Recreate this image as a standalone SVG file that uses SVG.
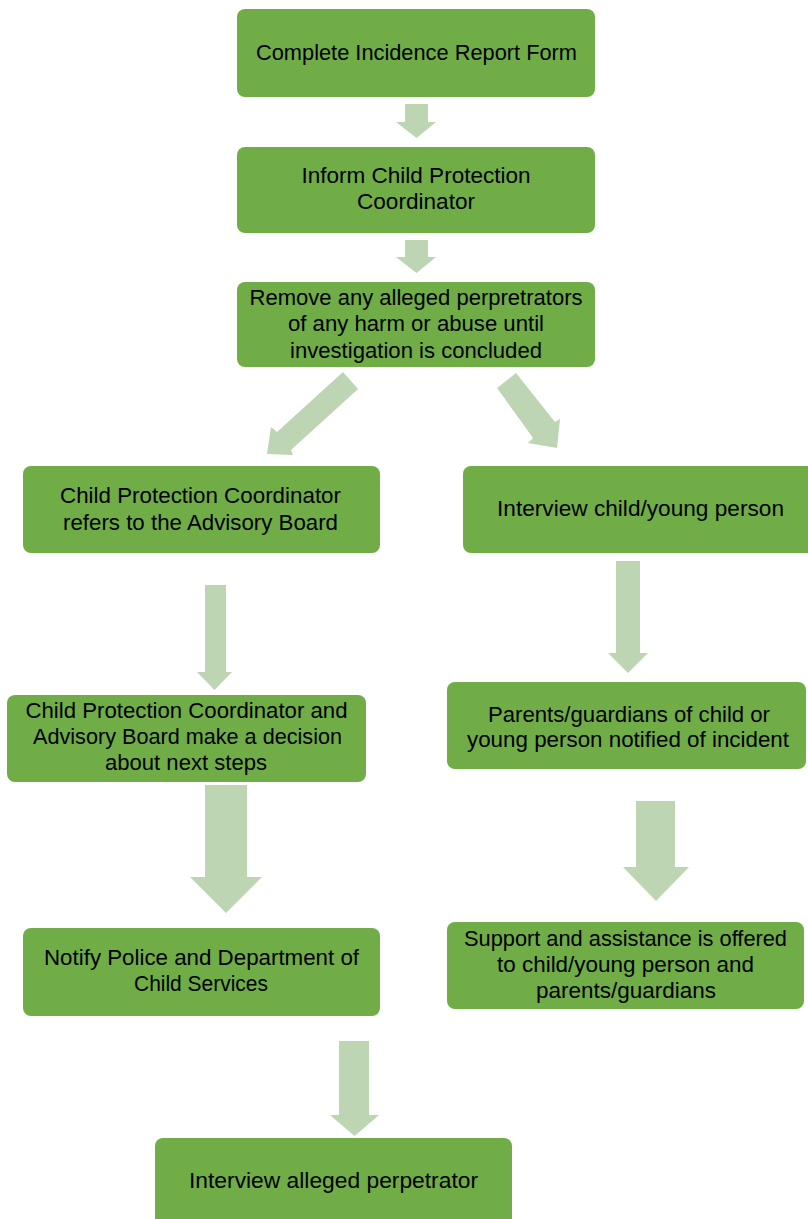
<svg xmlns="http://www.w3.org/2000/svg" width="808" height="1219" viewBox="0 0 808 1219">
<style>
.box{fill:#70AD47;}
.arr{fill:#BDD5B3;}
text{font-family:"Liberation Sans",Arial,sans-serif;font-size:21.5px;fill:#000;text-anchor:middle;}
</style>
<rect width="808" height="1219" fill="#ffffff"/>
<g id="connectors">
<polygon class="arr" points="405,104 428,104 428,122 436,122 416.5,138 396,122 405,122"/>
<polygon class="arr" points="405,240 428,240 428,257 436,257 416.5,273 396,257 405,257"/>
<polygon class="arr" points="343,372 358,389 291,450 293,455 267,454 271,427 277,432"/>
<polygon class="arr" points="516,373 555,422 560,419 557,448 528,443 533,438 497,388"/>
<polygon class="arr" points="205,585 226,585 226,672 232,672 214.5,690 197,672 205,672"/>
<polygon class="arr" points="616,561 640,561 640,653 648,653 628,673 608,653 616,653"/>
<polygon class="arr" points="205,785 247,785 247,877 262,877 226,913 190,877 205,877"/>
<polygon class="arr" points="636,801 675,801 675,867 689,867 656,901 623,867 636,867"/>
<polygon class="arr" points="339,1041 369,1041 369,1115 379,1115 354.5,1136 330,1115 339,1115"/>
</g>
<g id="n1">
<rect class="box" x="237" y="9" width="358" height="88" rx="8"/>
<text x="416.5" y="60" textLength="321" lengthAdjust="spacingAndGlyphs">Complete Incidence Report Form</text>
</g>
<g id="n2">
<rect class="box" x="237" y="147" width="358" height="86" rx="8"/>
<text x="416" y="183" textLength="229" lengthAdjust="spacingAndGlyphs">Inform Child Protection</text>
<text x="416" y="209" textLength="118" lengthAdjust="spacingAndGlyphs">Coordinator</text>
</g>
<g id="n3">
<rect class="box" x="237" y="282" width="358" height="85" rx="8"/>
<text x="416" y="305" textLength="333" lengthAdjust="spacingAndGlyphs">Remove any alleged perpretrators</text>
<text x="416" y="331" textLength="256" lengthAdjust="spacingAndGlyphs">of any harm or abuse until</text>
<text x="416" y="358" textLength="252" lengthAdjust="spacingAndGlyphs">investigation is concluded</text>
</g>
<g id="n4">
<rect class="box" x="23" y="466" width="357" height="87" rx="8"/>
<text x="200.5" y="503" textLength="281" lengthAdjust="spacingAndGlyphs">Child Protection Coordinator</text>
<text x="200.5" y="530" textLength="275" lengthAdjust="spacingAndGlyphs">refers to the Advisory Board</text>
</g>
<g id="n5">
<rect class="box" x="463" y="466" width="360" height="87" rx="8"/>
<text x="640.5" y="516" textLength="287" lengthAdjust="spacingAndGlyphs">Interview child/young person</text>
</g>
<g id="n6">
<rect class="box" x="7" y="695" width="359" height="87" rx="8"/>
<text x="186.5" y="718" textLength="322" lengthAdjust="spacingAndGlyphs">Child Protection Coordinator and</text>
<text x="187.5" y="744" textLength="309" lengthAdjust="spacingAndGlyphs">Advisory Board make a decision</text>
<text x="186" y="770" textLength="162" lengthAdjust="spacingAndGlyphs">about next steps</text>
</g>
<g id="n7">
<rect class="box" x="447" y="682" width="359" height="87" rx="8"/>
<text x="629" y="722" textLength="282" lengthAdjust="spacingAndGlyphs">Parents/guardians of child or</text>
<text x="628" y="747" textLength="322" lengthAdjust="spacingAndGlyphs">young person notified of incident</text>
</g>
<g id="n8">
<rect class="box" x="23" y="928" width="357" height="88" rx="8"/>
<text x="201.5" y="965" textLength="315" lengthAdjust="spacingAndGlyphs">Notify Police and Department of</text>
<text x="201" y="991" textLength="134" lengthAdjust="spacingAndGlyphs">Child Services</text>
</g>
<g id="n9">
<rect class="box" x="447" y="922" width="357" height="87" rx="8"/>
<text x="625.5" y="946" textLength="323" lengthAdjust="spacingAndGlyphs">Support and assistance is offered</text>
<text x="625.5" y="972" textLength="257" lengthAdjust="spacingAndGlyphs">to child/young person and</text>
<text x="626" y="998" textLength="180" lengthAdjust="spacingAndGlyphs">parents/guardians</text>
</g>
<g id="n10">
<rect class="box" x="155" y="1138" width="357" height="90" rx="8"/>
<text x="333.5" y="1188" textLength="289" lengthAdjust="spacingAndGlyphs">Interview alleged perpetrator</text>
</g>
</svg>
